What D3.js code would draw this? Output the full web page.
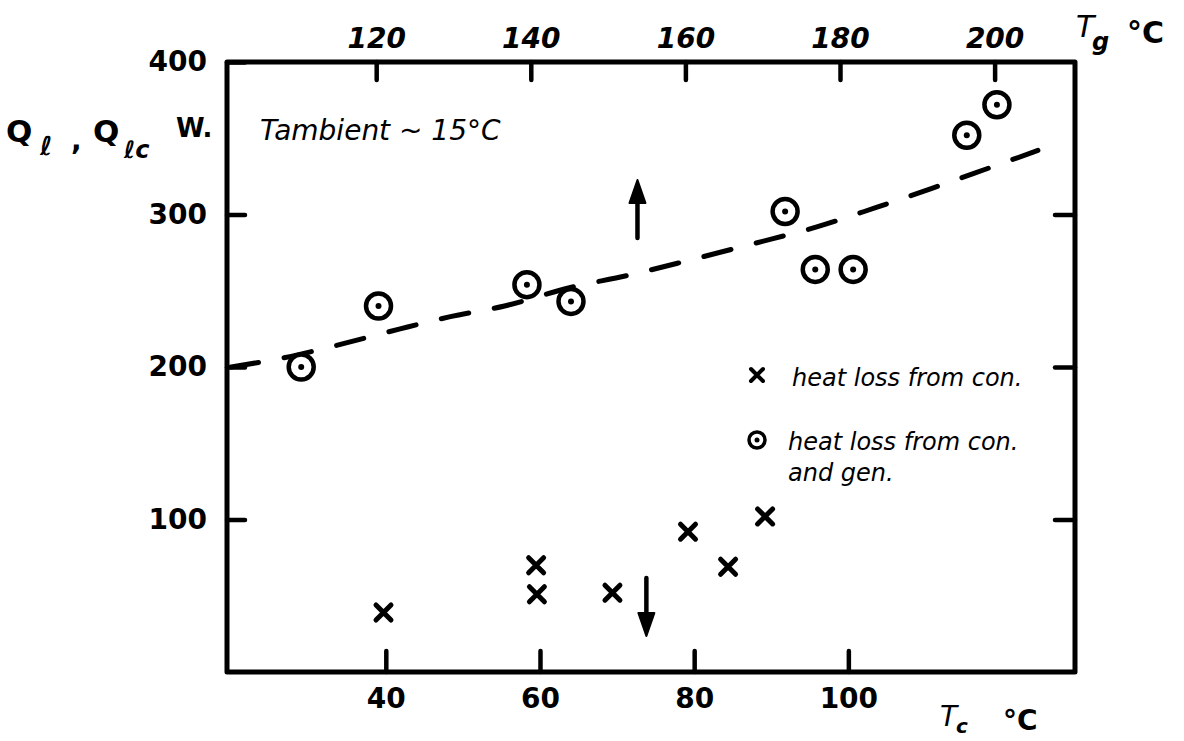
<!DOCTYPE html>
<html>
<head>
<meta charset="utf-8">
<script src="https://cdn.jsdelivr.net/npm/d3@7"></script>
<style>
  body { margin: 0; background: #fff; }
  svg text { fill: #000; font-family: 'DejaVu Sans', sans-serif; }
</style>
</head>
<body>
<div id="chart"></div>
<script>
// Q_l : heat loss from con. and gen., read against T_g (top axis)
const genTemps = [110.3, 120.3, 139.5, 145.2, 172.9, 176.8, 181.7, 196.4, 200.3]
const genLoss = [200, 240, 254, 243, 302, 264, 264, 352, 372]

// Q_lc : heat loss from con. only, read against T_c (bottom axis)
const conTemps = [39.7, 59.5, 59.6, 69.4, 79.2, 84.4, 89.2]
const conLoss = [39, 70, 51, 52, 92, 69, 102]

// dashed trend through the gen. points (T_g, Q)
const trendTemps = [101.2, 109.0, 115.5, 123.1, 129.6, 136.6, 145.0, 152.5, 160.5, 168.9, 177.1, 184.9, 191.8, 199.0, 205.6]
const trendLoss = [200, 207, 215, 225, 233, 240, 252, 260, 270, 281, 292, 305, 317, 330, 342]

const tcTicks = [40, 60, 80, 100]
const tgTicks = [120, 140, 160, 180, 200]
const qTicks = [100, 200, 300, 400]

const legendItems = ['heat loss from con.', 'heat loss from con.']

const width = 1184
const height = 741
const frame = { left: 227, right: 1075, top: 62, bottom: 672 }

const svg = d3
  .select('#chart')
  .append('svg')
  .attr('width', width)
  .attr('height', height)

// scales
const xTc = d3.scaleLinear().domain([19.4, 129.4]).range([frame.left, frame.right])
const xTg = d3.scaleLinear().domain([100.7, 210.4]).range([frame.left, frame.right])
const yQ = d3.scaleLinear().domain([0, 400]).range([frame.bottom, frame.top])

const styleAxis = (g, size, italic) => {
  g.select('.domain').remove()
  g.selectAll('.tick line').attr('stroke', '#000').attr('stroke-width', 4.5).attr('stroke-linecap', 'round')
  g.selectAll('.tick text')
    .attr('font-family', 'DejaVu Sans, sans-serif')
    .attr('font-size', size)
    .attr('font-weight', 'bold')
    .attr('font-style', italic ? 'italic' : 'normal')
    .attr('fill', '#000')
}

// bottom axis (T_c)
svg
  .append('g')
  .attr('transform', `translate(0, ${frame.bottom})`)
  .call(d3.axisBottom(xTc).tickValues(tcTicks).tickSize(-21).tickPadding(16))
  .call((g) => styleAxis(g, 28, false))

// top axis (T_g)
svg
  .append('g')
  .attr('transform', `translate(0, ${frame.top})`)
  .call(d3.axisTop(xTg).tickValues(tgTicks).tickSize(-18).tickPadding(14))
  .call((g) => styleAxis(g, 28, true))

// left axis (Q)
svg
  .append('g')
  .attr('transform', `translate(${frame.left}, 0)`)
  .call(d3.axisLeft(yQ).tickValues(qTicks).tickSize(-18).tickPadding(20))
  .call((g) => styleAxis(g, 28, false))

// right axis, ticks only
svg
  .append('g')
  .attr('transform', `translate(${frame.right}, 0)`)
  .call(d3.axisRight(yQ).tickValues(qTicks.slice(0, 3)).tickSize(-20).tickFormat(''))
  .call((g) => styleAxis(g, 28, false))

// frame
svg
  .append('rect')
  .attr('x', xTc.range()[0])
  .attr('y', yQ.range()[1])
  .attr('width', xTc.range()[1] - xTc.range()[0])
  .attr('height', yQ.range()[0] - yQ.range()[1])
  .attr('fill', 'none')
  .attr('stroke', '#000')
  .attr('stroke-width', 5)
  .attr('stroke-linejoin', 'round')

// dashed trend
const trend = trendTemps.map((t, i) => [t, trendLoss[i]])
svg
  .append('path')
  .datum(trend)
  .attr('fill', 'none')
  .attr('stroke', '#000')
  .attr('stroke-width', 5)
  .attr('stroke-linecap', 'round')
  .attr('stroke-dasharray', '28 26')
  .attr('d', d3.line().x((d) => xTg(d[0])).y((d) => yQ(d[1])).curve(d3.curveMonotoneX))

// markers
const drawCircle = (g, x, y, r, sw, dot) => {
  g.append('circle').attr('cx', x).attr('cy', y).attr('r', r)
    .attr('fill', '#fff').attr('stroke', '#000').attr('stroke-width', sw)
  g.append('circle').attr('cx', x).attr('cy', y).attr('r', dot).attr('fill', '#000')
}
const drawCross = (g, x, y, a, sw) => {
  g.append('path')
    .attr('d', `M${x - a},${y - a}L${x + a},${y + a}M${x - a},${y + a}L${x + a},${y - a}`)
    .attr('stroke', '#000').attr('stroke-width', sw).attr('stroke-linecap', 'round')
}

const marks = svg.append('g')
genTemps.forEach((t, i) => drawCircle(marks, xTg(t), yQ(genLoss[i]), 12.5, 4.5, 3))
conTemps.forEach((t, i) => drawCross(marks, xTc(t), yQ(conLoss[i]), 7.5, 5))

// arrows pointing to the axis each series belongs to
const drawArrow = (x, y0, y1) => {
  const dir = Math.sign(y1 - y0)
  svg.append('line').attr('x1', x).attr('y1', y0).attr('x2', x).attr('y2', y1 - dir * 12)
    .attr('stroke', '#000').attr('stroke-width', 4.5).attr('stroke-linecap', 'round')
  svg.append('path')
    .attr('d', `M${x},${y1}L${x - 8},${y1 - dir * 23}L${x + 8},${y1 - dir * 23}Z`)
    .attr('fill', '#000').attr('stroke', '#000').attr('stroke-width', 2).attr('stroke-linejoin', 'round')
}
drawArrow(xTg(153.8), yQ(284.6), yQ(322.6))
drawArrow(xTc(73.8), yQ(61.6), yQ(23.6))

// legend
const legend = svg.append('g')
drawCross(legend, 757, 375, 6, 4)
drawCircle(legend, 757, 440, 8, 3.5, 2.5)
legend
  .selectAll('text.item')
  .data(legendItems)
  .enter()
  .append('text')
  .attr('class', 'item')
  .attr('x', (d, i) => (i === 0 ? 792 : 788))
  .attr('y', (d, i) => (i === 0 ? 386 : 450))
  .attr('font-size', 24)
  .attr('font-style', 'italic')
  .text((d) => d)
legend.append('text').attr('x', 788).attr('y', 481).attr('font-size', 24).attr('font-style', 'italic').text('and gen.')

// ambient note
svg.append('text').attr('x', 260).attr('y', 140).attr('font-size', 28).attr('font-style', 'italic')
  .text('Tambient ~ 15°C')

// axis titles
const label = (x, y, size, txt, opts = {}) =>
  svg.append('text').attr('x', x).attr('y', y).attr('font-size', size)
    .attr('font-style', opts.italic ? 'italic' : 'normal')
    .attr('font-weight', opts.bold ? 'bold' : 'normal')
    .text(txt)

label(6, 142, 31, 'Q', { bold: true })
label(40, 155, 26, 'ℓ', { italic: true, bold: true })
label(71, 150, 28, ',', { bold: true })
label(93, 142, 31, 'Q', { bold: true })
label(124, 158, 24, 'ℓc', { italic: true, bold: true })
label(176, 137, 26, 'W.', { bold: true })

label(1076, 37, 30, 'T', { italic: true })
label(1092, 50, 24, 'g', { italic: true, bold: true })
label(1127, 43, 30, '°C', { bold: true })

label(940, 726, 28, 'T', { italic: true })
label(956, 733, 20, 'c', { italic: true, bold: true })
label(1003, 730, 28, '°C', { bold: true })
</script>
</body>
</html>
